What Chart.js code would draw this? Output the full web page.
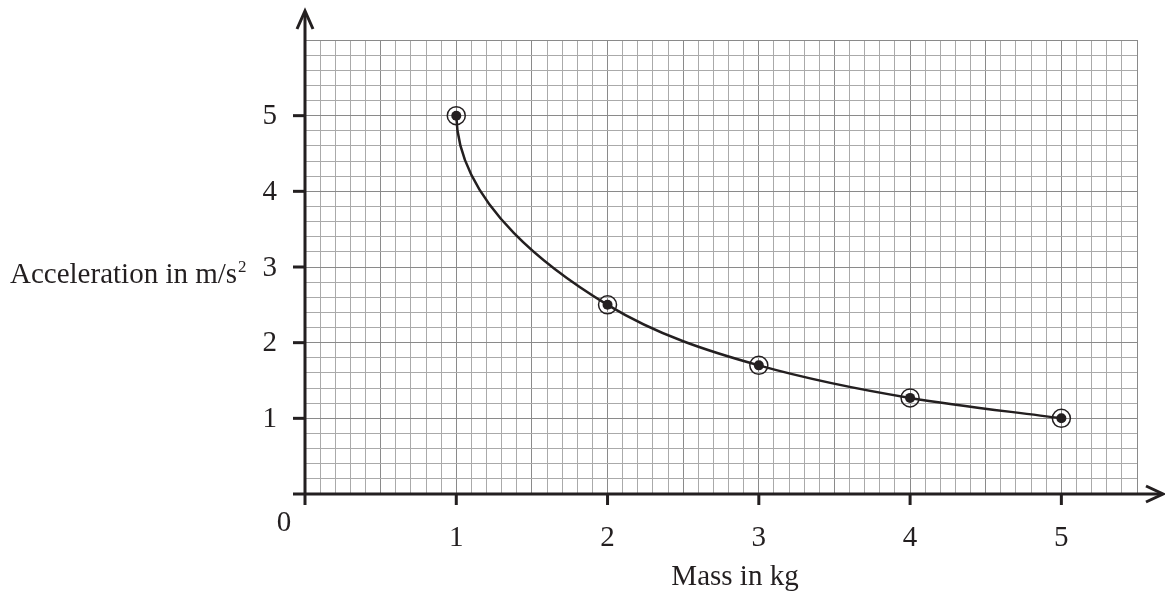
<!DOCTYPE html>
<html>
<head>
<meta charset="utf-8">
<script src="https://cdn.jsdelivr.net/npm/chart.js@4/dist/chart.umd.min.js"></script>
<style>
  html, body { margin: 0; padding: 0; background: #fff; }
  #wrap { width: 1165px; height: 594px; }
</style>
</head>
<body>
<div id="wrap"><canvas id="chart" width="1165" height="594"></canvas></div>
<script>
// values
const mass = [1, 2, 3, 4, 5];
const accel = [5, 2.5, 1.7, 1.27, 1.0];
const xTickLabels = ["1", "2", "3", "4", "5"];
const yTickLabels = ["1", "2", "3", "4", "5"];
const xTitle = "Mass in kg";
const yTitle = "Acceleration in m/s";

const INK = "#231f20";
const FONT = '"Liberation Serif", "Times New Roman", serif';

const points = mass.map((m, i) => ({ x: m, y: accel[i] }));

// fine grid: 0.1 on x, 0.2 on y
function fineTicks(max, step) {
  const out = [];
  const n = Math.round(max / step);
  for (let i = 0; i <= n; i++) out.push({ value: +(i * step).toFixed(2) });
  return out;
}

// smooth, hand-drawn looking curve: harmonic-mean tangents, first point leaves straight down
const curvePlugin = {
  id: "handCurve",
  beforeDatasetDraw(chart, args) {
    if (args.index !== 0) return;
    const line = args.meta.dataset;
    const pts = args.meta.data;
    line.updateControlPoints(chart.chartArea, "x");
    const n = pts.length;
    const sec = [];
    for (let i = 0; i < n - 1; i++) {
      sec.push((pts[i + 1].y - pts[i].y) / (pts[i + 1].x - pts[i].x));
    }
    const slope = pts.map((p, i) => {
      if (i === 0) return null;
      if (i === n - 1) return sec[n - 2];
      const a = sec[i - 1], b = sec[i];
      return a * b > 0 ? 2 / (1 / a + 1 / b) : 0;
    });
    for (let i = 0; i < n; i++) {
      const p = pts[i];
      if (i > 0) {
        const dx = (p.x - pts[i - 1].x) / 3;
        p.cp1x = p.x - dx;
        p.cp1y = p.y - dx * slope[i];
      }
      if (i < n - 1) {
        const dx = pts[i + 1].x - p.x;
        if (i === 0) {
          p.cp2x = p.x + 2;
          p.cp2y = p.y + dx * 0.6;
        } else {
          p.cp2x = p.x + dx / 3;
          p.cp2y = p.y + dx / 3 * slope[i];
        }
      }
    }
  }
};

const axesPlugin = {
  id: "paperAxes",
  afterDraw(chart) {
    const ctx = chart.ctx;
    const xs = chart.scales.x;
    const ys = chart.scales.y;
    const x0 = xs.getPixelForValue(0);
    const y0 = ys.getPixelForValue(0);

    ctx.save();
    ctx.strokeStyle = INK;
    ctx.fillStyle = INK;
    ctx.lineWidth = 3;
    ctx.lineCap = "butt";

    // y axis with arrow
    ctx.beginPath();
    ctx.moveTo(x0, y0 + 11);
    ctx.lineTo(x0, 12);
    ctx.stroke();
    ctx.beginPath();
    ctx.moveTo(x0 - 8, 29);
    ctx.lineTo(x0, 11);
    ctx.lineTo(x0 + 8, 29);
    ctx.stroke();

    // x axis with arrow
    ctx.beginPath();
    ctx.moveTo(x0 - 12, y0);
    ctx.lineTo(1162, y0);
    ctx.stroke();
    ctx.beginPath();
    ctx.moveTo(1146, y0 - 8);
    ctx.lineTo(1163, y0);
    ctx.lineTo(1146, y0 + 8);
    ctx.stroke();

    // tick marks
    xTickLabels.forEach(t => {
      const px = xs.getPixelForValue(+t);
      ctx.beginPath();
      ctx.moveTo(px, y0);
      ctx.lineTo(px, y0 + 11);
      ctx.stroke();
    });
    yTickLabels.forEach(t => {
      const py = ys.getPixelForValue(+t);
      ctx.beginPath();
      ctx.moveTo(x0, py);
      ctx.lineTo(x0 - 12, py);
      ctx.stroke();
    });

    // tick labels
    ctx.font = "29px " + FONT;
    ctx.textBaseline = "middle";
    ctx.textAlign = "center";
    xTickLabels.forEach(t => {
      ctx.fillText(t, xs.getPixelForValue(+t), y0 + 44);
    });
    ctx.fillText("0", x0 - 21, y0 + 29);
    ctx.textAlign = "right";
    yTickLabels.forEach(t => {
      ctx.fillText(t, x0 - 28, ys.getPixelForValue(+t) + 1);
    });

    // axis titles
    ctx.textBaseline = "alphabetic";
    ctx.textAlign = "center";
    ctx.fillText(xTitle, 735, 585);
    ctx.textAlign = "left";
    ctx.fillText(yTitle, 10, 283);
    const w = ctx.measureText(yTitle).width;
    ctx.font = "17px " + FONT;
    ctx.fillText("2", 10 + w + 1, 272);
    ctx.restore();
  }
};

new Chart(document.getElementById("chart"), {
  type: "scatter",
  data: {
    datasets: [
      {
        type: "line",
        data: points,
        borderColor: INK,
        borderWidth: 2.5,
        cubicInterpolationMode: "monotone",
        pointRadius: 5,
        pointBackgroundColor: INK,
        pointBorderWidth: 0,
        fill: false,
        clip: false
      },
      {
        data: points,
        showLine: false,
        pointRadius: 9,
        pointBorderWidth: 1.5,
        pointBorderColor: INK,
        pointBackgroundColor: "rgba(0,0,0,0)",
        clip: false
      }
    ]
  },
  options: {
    responsive: false,
    animation: false,
    events: [],
    layout: {
      autoPadding: false,
      padding: { left: 305, right: 28, top: 40, bottom: 100 }
    },
    plugins: {
      legend: { display: false },
      tooltip: { enabled: false }
    },
    scales: {
      x: {
        type: "linear",
        min: 0,
        max: 5.5,
        afterBuildTicks: s => { s.ticks = fineTicks(5.5, 0.1); },
        ticks: { display: false },
        border: { display: false },
        grid: {
          drawTicks: false,
          lineWidth: 1,
          color: c => {
            const v = Math.round(c.tick.value * 10);
            return v % 5 === 0 ? "#8a8a8a" : "#aaaaaa";
          }
        }
      },
      y: {
        type: "linear",
        min: 0,
        max: 6,
        afterBuildTicks: s => { s.ticks = fineTicks(6, 0.2); },
        ticks: { display: false },
        border: { display: false },
        grid: {
          drawTicks: false,
          lineWidth: 1,
          color: c => {
            const v = Math.round(c.tick.value * 10);
            return v % 10 === 0 ? "#8a8a8a" : "#aaaaaa";
          }
        }
      }
    }
  },
  plugins: [curvePlugin, axesPlugin]
});
</script>
</body>
</html>
